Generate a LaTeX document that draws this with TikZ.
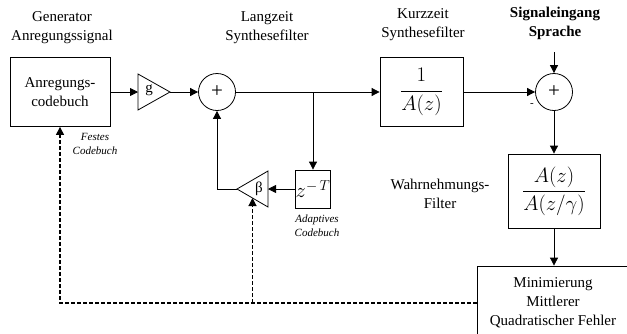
\documentclass[tikz,border=0pt]{standalone}
\usepackage{fontspec}
\setmainfont{Liberation Serif}
\usetikzlibrary{arrows.meta}

\begin{document}
\begin{tikzpicture}[
    x=1pt, y=-1pt,
    line width=0.8pt,
    >={Triangle[length=8pt,width=8pt]},
    every node/.style={align=center, inner sep=0pt, font=\fontsize{15}{19}\selectfont},
    block/.style={rectangle, draw},
    mathbox/.style={block, font=\fontsize{22}{26}\selectfont},
    sum/.style={circle, draw, minimum size=37pt, font=\fontsize{21}{21}\selectfont},
    note/.style={font=\fontsize{11}{14}\selectfont\itshape},
    feedback/.style={->, dash pattern=on 4pt off 2pt, line width=1.1pt}
]
\useasboundingbox (0,0) rectangle (627,333);
\clip (0,0) rectangle (627,333);
\node (gen) at (62,28) {Generator\\Anregungssignal};
\node[block, minimum width=100pt, minimum height=69pt] (codebuch) at (60,92) {Anregungs-\\codebuch};
\node[note] (festes) at (95,144) {Festes\\Codebuch};
\coordinate (g in) at (138,92);
\coordinate (g out) at (170,92);
\draw (g in) ++(0,-18) -- (g out) -- ++(-32,18) -- cycle;
\node (g) at (149,90) {g};
\node[sum] (sum1) at (217,92) {+};
\node (lang) at (267,28) {Langzeit\\Synthesefilter};
\coordinate (branch) at (313,92);
\node (kurz) at (423,25) {Kurzzeit\\Synthesefilter};
\node[mathbox, minimum width=83pt, minimum height=69pt] (kzf) at (421.5,92) {$\displaystyle\frac{1}{A(z)}$};
\node[font=\bfseries\fontsize{15}{19}\selectfont] (signal) at (555,23) {Signaleingang\\Sprache};
\coordinate (sigin) at (554,52);
\node[sum] (sum2) at (554,92) {+};
\node[font=\fontsize{11}{14}\selectfont] (minus) at (532,105) {-};
\node[mathbox, minimum width=92pt, minimum height=74pt] (wf) at (554,191) {$\displaystyle\frac{A(z)}{A(z/\gamma)}$};
\node (wahr) at (440,194) {Wahrnehmungs-\\Filter};
\node[block, minimum width=152pt, minimum height=74pt] (mmse) at (553,303) {Minimierung\\Mittlerer\\Quadratischer Fehler};
\node[mathbox, minimum width=35pt, minimum height=38pt] (delay) at (313,189) {$z^{-\,T}$};
\node[note] (adapt) at (317,226) {Adaptives\\Codebuch};
\coordinate (beta in) at (268,189);
\coordinate (beta out) at (237,189);
\coordinate (beta low) at (252.5,198);
\draw (beta in) ++(0,-18) -- (beta out) -- ++(31,18) -- cycle;
\node (beta) at (259,189) {β};

\draw[->] (codebuch) -- (g in);
\draw[->] (g out) -- (sum1);
\draw[->] (sum1) -- (kzf);
\draw[->] (branch) -- (delay);
\draw[->] (kzf) -- (sum2);
\draw[->] (sigin) -- (sum2);
\draw[->] (sum2) -- (wf);
\draw[->] (wf.south) -- (wf.south |- mmse.north);
\draw[->] (delay) -- (beta in);
\draw[->] (beta out) -| (sum1.south);
\draw[feedback] (mmse.west) -| (codebuch.south);
\draw[feedback] (beta low |- mmse.west) -- (beta low);
\end{tikzpicture}
\end{document}
